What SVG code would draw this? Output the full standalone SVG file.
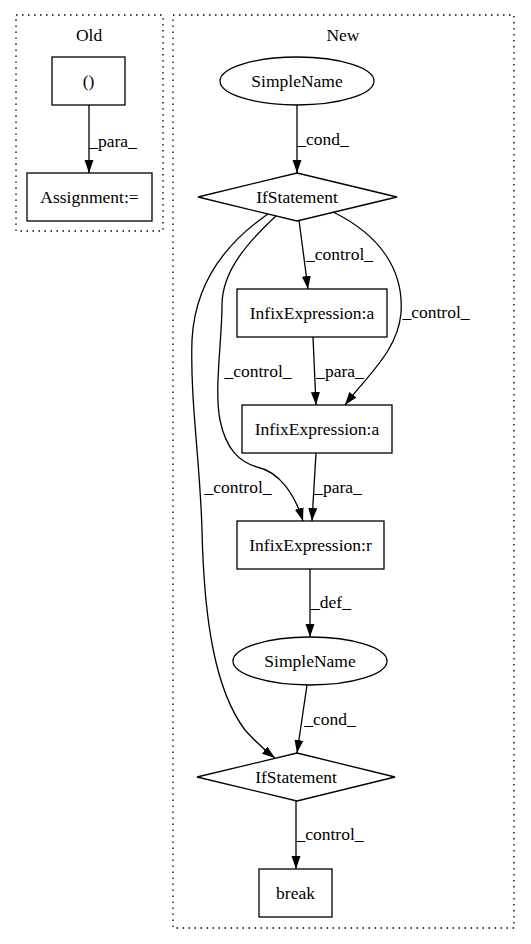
<svg xmlns="http://www.w3.org/2000/svg" width="531" height="944" viewBox="0 0 531 944">
<style>
text{font-family:'Times New Roman','Liberation Serif',Times,'Nimbus Roman','Noto Serif','DejaVu Serif',serif;font-size:17.5px;fill:#000;text-anchor:middle}
.shape{fill:none;stroke:#000;stroke-width:1.3}
.cluster{fill:none;stroke:#000;stroke-width:1.3;stroke-dasharray:1.5,4.5}
.edge{fill:none;stroke:#000;stroke-width:1.3;marker-end:url(#arr)}
</style>
<defs>
<marker id="arr" viewBox="0 0 13 10" refX="13" refY="5" markerWidth="13" markerHeight="10" markerUnits="userSpaceOnUse" orient="auto">
<path d="M0,0.5 L13,5 L0,9.5 z" fill="#000"/>
</marker>
</defs>
<rect width="531" height="944" fill="#fff"/>
<g id="cluster_old">
<rect class="cluster" x="16" y="15" width="147" height="216"/>
<text x="89" y="41">Old</text>
</g>
<g id="cluster_new">
<rect class="cluster" x="173" y="15" width="341" height="913"/>
<text x="343" y="41">New</text>
</g>
<g id="old_paren">
<rect class="shape" x="52" y="57" width="73" height="48"/>
<text x="88.5" y="87">()</text>
</g>
<g id="old_assign">
<rect class="shape" x="27" y="173" width="125" height="48"/>
<text x="89.5" y="203">Assignment:=</text>
</g>
<g id="simplename1">
<ellipse class="shape" cx="297" cy="81" rx="77" ry="24"/>
<text x="297" y="87">SimpleName</text>
</g>
<g id="ifstatement1">
<polygon class="shape" points="297,173 397,197 297,221 198,197"/>
<text x="297" y="203">IfStatement</text>
</g>
<g id="infixA1">
<rect class="shape" x="237" y="289" width="150" height="48"/>
<text x="312" y="319">InfixExpression:a</text>
</g>
<g id="infixA2">
<rect class="shape" x="242" y="405" width="150" height="48"/>
<text x="317" y="435">InfixExpression:a</text>
</g>
<g id="infixR">
<rect class="shape" x="237" y="521" width="147" height="48"/>
<text x="310.5" y="551">InfixExpression:r</text>
</g>
<g id="simplename2">
<ellipse class="shape" cx="310" cy="661" rx="77" ry="24"/>
<text x="310" y="667">SimpleName</text>
</g>
<g id="ifstatement2">
<polygon class="shape" points="297,753 395,777 297,801 197,777"/>
<text x="296" y="783">IfStatement</text>
</g>
<g id="break">
<rect class="shape" x="259" y="869" width="73" height="48"/>
<text x="295.5" y="899">break</text>
</g>
<g id="connectors">
<path class="edge" d="M89,105 L89,173"/>
<text x="113" y="147">_para_</text>
<path class="edge" d="M297,105 L297,173"/>
<text x="323" y="145">_cond_</text>
<path class="edge" d="M299,220 L308,289"/>
<text x="339.5" y="260">_control_</text>
<path class="edge" d="M313,337 L316,405"/>
<text x="340" y="377">_para_</text>
<path class="edge" d="M333,212 C 380,235 404,270 401,313 C 398,350 368,375 345,405"/>
<text x="436" y="318">_control_</text>
<path class="edge" d="M276,216 C 250,240 222,270 222,305 C 222,340 214,390 220,420 C 226,450 240,462 257,467 C 280,472 295,495 303,521"/>
<text x="258" y="377">_control_</text>
<path class="edge" d="M268,214 C 230,240 195,280 192,340 C 190,400 200,460 202,530 C 204,620 215,690 245,730 C 254,740 263,749 275,758"/>
<text x="238" y="493">_control_</text>
<path class="edge" d="M316,453 L312,521"/>
<text x="338" y="493">_para_</text>
<path class="edge" d="M310,569 L310,637"/>
<text x="331" y="608">_def_</text>
<path class="edge" d="M307,685 L297,753"/>
<text x="330" y="725">_cond_</text>
<path class="edge" d="M296,801 L296,869"/>
<text x="330" y="840">_control_</text>
</g>
</svg>
